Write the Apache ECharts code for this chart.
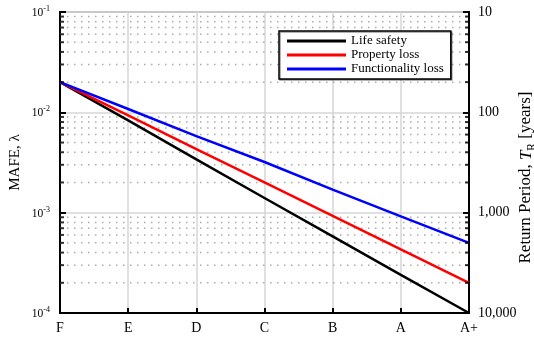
<!DOCTYPE html>
<html>
<head>
<meta charset="utf-8">
<script src="https://cdn.jsdelivr.net/npm/echarts@6/dist/echarts.min.js"></script>
<style>
html,body{margin:0;padding:0;background:#fff;}
#chart{width:534px;height:337px;}
</style>
</head>
<body>
<div id="chart"></div>
<script>
const categories = ['F', 'E', 'D', 'C', 'B', 'A', 'A+'];
const lifeSafety = [2.0e-2, 8.3e-3, 3.4e-3, 1.4e-3, 5.8e-4, 2.4e-4, 1.0e-4];
const propertyLoss = [2.0e-2, 9.3e-3, 4.3e-3, 2.0e-3, 9.3e-4, 4.3e-4, 2.0e-4];
const functionalityLoss = [2.0e-2, 1.08e-2, 5.8e-3, 3.2e-3, 1.7e-3, 9.2e-4, 5.0e-4];
const seriesNames = ['Life safety', 'Property loss', 'Functionality loss'];
const returnPeriodLabels = ['10', '100', '1,000', '10,000'];
const minorLevels = [
  2e-4, 3e-4, 4e-4, 5e-4, 6e-4, 7e-4, 8e-4, 9e-4,
  2e-3, 3e-3, 4e-3, 5e-3, 6e-3, 7e-3, 8e-3, 9e-3,
  2e-2, 3e-2, 4e-2, 5e-2, 6e-2, 7e-2, 8e-2, 9e-2
];

const FONT = '"Liberation Serif", "Times New Roman", serif';
const chart = echarts.init(document.getElementById('chart'), null, {renderer: 'canvas'});

function lineSeries(name, data, color) {
  return {
    name: name,
    type: 'line',
    data: data,
    symbol: 'none',
    lineStyle: {color: color, width: 2.5},
    itemStyle: {color: color},
    z: 5,
    animation: false
  };
}

const rpMap = {};
[10, 100, 1000, 10000].forEach((v, i) => { rpMap[v] = returnPeriodLabels[i]; });

const first = categories[0];
const last = categories[categories.length - 1];

const gridSeries = minorLevels.map(v => ({
  type: 'line',
  silent: true,
  symbol: 'none',
  data: [[first, v], [last, v]],
  lineStyle: {color: '#ababab', width: 1.5, type: [1.5, 5.5]},
  z: 1,
  animation: false
}));

chart.setOption({
  animation: false,
  backgroundColor: '#fff',
  textStyle: {fontFamily: FONT},
  grid: {left: 60, right: 65, top: 12, bottom: 24, show: true, borderColor: '#000', borderWidth: 2, containLabel: false, outerBoundsMode: 'none'},
  legend: {
    orient: 'vertical',
    left: 279,
    top: 31,
    padding: [3.5, 7, 3.5, 8],
    itemGap: 1,
    itemWidth: 59,
    itemHeight: 3,
    backgroundColor: '#fff',
    borderColor: '#000',
    borderWidth: 1.5,
    shadowColor: 'rgba(0,0,0,0.4)',
    shadowOffsetX: 1,
    shadowOffsetY: 1,
    icon: 'rect',
    textStyle: {fontFamily: FONT, fontSize: 13, color: '#000', lineHeight: 13},
    data: seriesNames
  },
  xAxis: {
    type: 'category',
    data: categories,
    boundaryGap: false,
    axisLine: {lineStyle: {color: '#000', width: 2}},
    axisTick: {show: true, inside: true, length: 5, lineStyle: {color: '#000', width: 2}},
    axisLabel: {color: '#000', fontSize: 14, fontFamily: FONT, margin: 8},
    splitLine: {show: true, lineStyle: {color: '#d6d6d6', width: 1.5}}
  },
  yAxis: [
    {
      type: 'log',
      logBase: 10,
      min: 1e-4,
      max: 1e-1,
      position: 'left',
      name: 'MAFE, λ',
      nameLocation: 'middle',
      nameRotate: 90,
      nameGap: 37,
      nameMoveOverlap: false,
      nameTextStyle: {color: '#000', fontSize: 15, fontFamily: FONT},
      axisLine: {show: true, lineStyle: {color: '#000', width: 2}},
      axisTick: {show: true, inside: true, length: 6, lineStyle: {color: '#000', width: 2}},
      splitLine: {show: true, lineStyle: {color: '#d6d6d6', width: 1.5}},
      axisLabel: {
        color: '#000',
        margin: 10,
        formatter: function (v) {
          const e = Math.round(Math.log10(v));
          return '{b|10}{s|' + e + '}';
        },
        rich: {
          b: {fontSize: 11.5, fontFamily: FONT, color: '#000', lineHeight: 14, verticalAlign: 'bottom'},
          s: {fontSize: 8, fontFamily: FONT, color: '#000', lineHeight: 14, verticalAlign: 'top'}
        }
      }
    },
    {
      type: 'log',
      logBase: 10,
      min: 10,
      max: 10000,
      inverse: true,
      position: 'right',
      name: 'Return Period, {i|T}{sub|R} [years]',
      nameLocation: 'middle',
      nameRotate: 90,
      nameGap: 47,
      nameMoveOverlap: false,
      nameTextStyle: {
        color: '#000', fontSize: 17, fontFamily: FONT,
        padding: [0, 30, 0, 0],
        rich: {
          i: {fontSize: 17, fontStyle: 'italic', fontFamily: FONT, color: '#000', lineHeight: 19, verticalAlign: 'bottom'},
          sub: {fontSize: 11.5, fontFamily: FONT, color: '#000', lineHeight: 19, verticalAlign: 'bottom', padding: [0, 0, -3, 0]}
        }
      },
      axisLine: {show: true, lineStyle: {color: '#000', width: 2}},
      axisTick: {show: true, inside: true, length: 6, lineStyle: {color: '#000', width: 2}},
      splitLine: {show: false},
      axisLabel: {
        color: '#000', fontSize: 14, fontFamily: FONT, margin: 9,
        formatter: function (v) { return rpMap[Math.round(v)] || ''; }
      }
    }
  ],
  series: gridSeries.concat([
    lineSeries(seriesNames[0], lifeSafety, '#000000'),
    lineSeries(seriesNames[1], propertyLoss, '#ff0000'),
    lineSeries(seriesNames[2], functionalityLoss, '#0000ff'),
    {
      type: 'scatter',
      silent: true,
      clip: false,
      symbol: 'rect',
      symbolSize: [4, 2],
      symbolOffset: [2, 0],
      itemStyle: {color: '#000'},
      data: minorLevels.map(v => [first, v]),
      z: 6,
      animation: false
    },
    {
      type: 'scatter',
      silent: true,
      clip: false,
      symbol: 'rect',
      symbolSize: [4, 2],
      symbolOffset: [-2, 0],
      itemStyle: {color: '#000'},
      data: minorLevels.map(v => [last, v]),
      z: 6,
      animation: false
    }
  ])
});
</script>
</body>
</html>
